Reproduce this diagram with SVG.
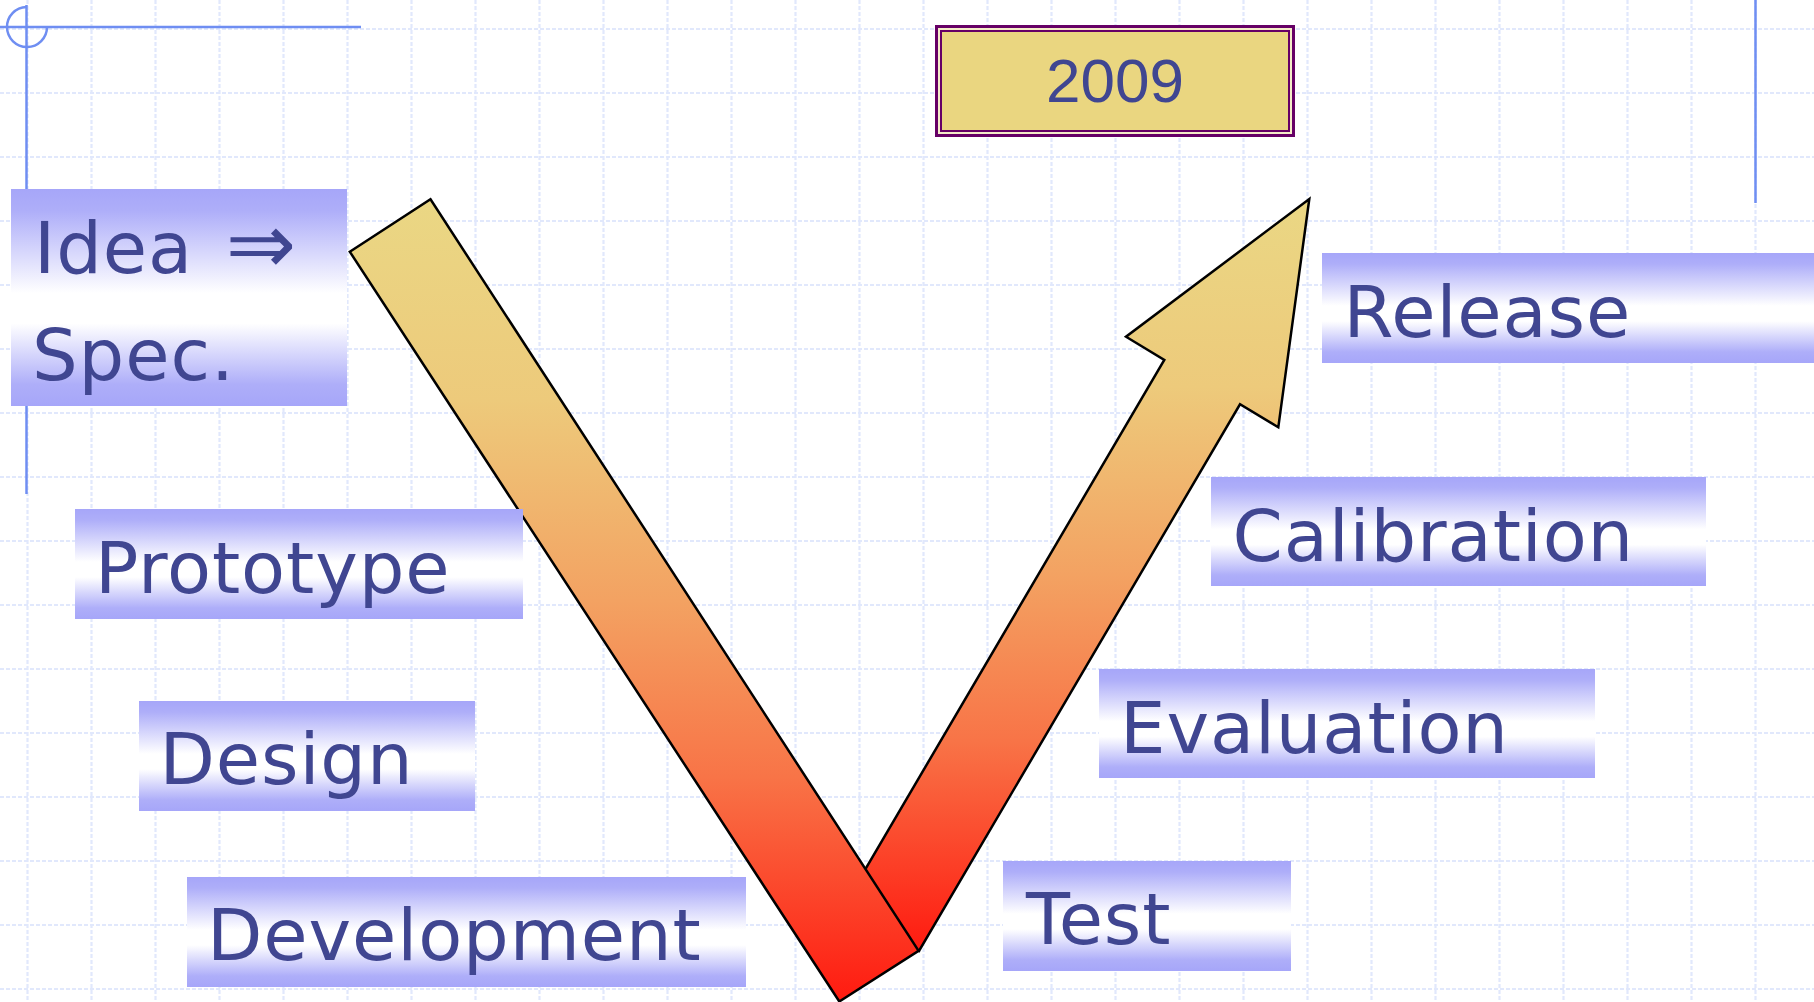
<svg xmlns="http://www.w3.org/2000/svg" width="1814" height="1002" viewBox="0 0 1814 1002">
  <defs>
    <linearGradient id="boxGrad" x1="0" y1="0" x2="0" y2="1">
      <stop offset="0" stop-color="#a6a6f9"/>
      <stop offset="0.1" stop-color="#aeaef9"/>
      <stop offset="0.48" stop-color="#ffffff"/>
      <stop offset="0.62" stop-color="#ffffff"/>
      <stop offset="0.9" stop-color="#aeaef9"/>
      <stop offset="1" stop-color="#a6a6f9"/>
    </linearGradient>
    <linearGradient id="vGrad" x1="0" y1="0" x2="0" y2="1">
      <stop offset="0" stop-color="#ead784"/>
      <stop offset="0.25" stop-color="#edca7b"/>
      <stop offset="0.5" stop-color="#f3a262"/>
      <stop offset="0.72" stop-color="#f87447"/>
      <stop offset="1" stop-color="#ff1a10"/>
    </linearGradient>
    <style>
      .grid { fill: none; stroke: #e1e8fc; stroke-width: 2.2; stroke-dasharray: 4 2; }
      .rule { fill: none; stroke: #6f8ef2; stroke-width: 2.5; }
      .box { fill: url(#boxGrad); }
      .lbl { font-family: "DejaVu Sans", "Liberation Sans", sans-serif; font-size: 72px; letter-spacing: 0.9px; fill: #404691; }
      .v { fill: url(#vGrad); stroke: #000000; stroke-width: 2.5; stroke-linejoin: miter; }
    </style>
  </defs>

  <rect x="0" y="0" width="1814" height="1002" fill="#ffffff"/>

  <path class="grid" d="M27.5 0V1002M91.5 0V1002M155.5 0V1002M219.5 0V1002M283.5 0V1002M347.5 0V1002M411.5 0V1002M475.5 0V1002M539.5 0V1002M603.5 0V1002M667.5 0V1002M731.5 0V1002M795.5 0V1002M859.5 0V1002M923.5 0V1002M987.5 0V1002M1051.5 0V1002M1115.5 0V1002M1179.5 0V1002M1243.5 0V1002M1307.5 0V1002M1371.5 0V1002M1435.5 0V1002M1499.5 0V1002M1563.5 0V1002M1627.5 0V1002M1691.5 0V1002M1755.5 0V1002M0 29H1814M0 93H1814M0 157H1814M0 221H1814M0 285H1814M0 349H1814M0 413H1814M0 477H1814M0 541H1814M0 605H1814M0 669H1814M0 733H1814M0 797H1814M0 861H1814M0 925H1814M0 989H1814"/>

  <g id="decor">
    <path class="rule" d="M26.5 5V494"/>
    <path class="rule" d="M0 27H361"/>
    <path class="rule" d="M47 27A20 20 0 1 1 26.5 7"/>
    <path class="rule" d="M1755.5 0V203"/>
  </g>

  <g id="year">
    <rect x="936.5" y="26.5" width="357" height="109" fill="#f4ecc8" stroke="#660066" stroke-width="3"/>
    <rect x="941" y="31" width="348" height="100" fill="#ead680" stroke="#660066" stroke-width="2"/>
    <text x="1115" y="102" text-anchor="middle" font-family="Liberation Sans, Arial, sans-serif" font-size="62" fill="#404691">2009</text>
  </g>

  <g id="connectors">
    <polygon id="up-arrow" class="v" points="919,951 844.3,905 1164.3,360 1126,336.7 1309.3,199 1278.3,427.3 1240,404.3"/>
    <polygon id="down-bar" class="v" points="349.8,251.7 430.5,199.3 918.6,950.8 839.3,1001.5"/>
  </g>

  <g id="node-idea">
    <rect class="box" x="11" y="189" width="336" height="217"/>
    <text class="lbl" x="34" y="272.7" font-size="74" letter-spacing="2.5">Idea <tspan dx="9" font-size="84" letter-spacing="0">⇒</tspan></text>
    <text class="lbl" x="32" y="380" font-size="74">Spec.</text>
  </g>
  <g id="node-prototype">
    <rect class="box" x="75" y="509" width="448" height="110"/>
    <text class="lbl" x="95" y="592.7">Prototype</text>
  </g>
  <g id="node-design">
    <rect class="box" x="139" y="701" width="336" height="110"/>
    <text class="lbl" x="159.5" y="784">Design</text>
  </g>
  <g id="node-development">
    <rect class="box" x="187" y="877" width="559" height="110"/>
    <text class="lbl" x="207" y="960">Development</text>
  </g>
  <g id="node-test">
    <rect class="box" x="1003" y="861" width="288" height="110"/>
    <text class="lbl" x="1026" y="943.5">Test</text>
  </g>
  <g id="node-evaluation">
    <rect class="box" x="1099" y="669" width="496" height="109"/>
    <text class="lbl" x="1120" y="752.7">Evaluation</text>
  </g>
  <g id="node-calibration">
    <rect class="box" x="1211" y="477" width="495" height="109"/>
    <text class="lbl" x="1232.5" y="561">Calibration</text>
  </g>
  <g id="node-release">
    <rect class="box" x="1322" y="253" width="500" height="110"/>
    <text class="lbl" x="1343.5" y="336.7">Release</text>
  </g>
</svg>
